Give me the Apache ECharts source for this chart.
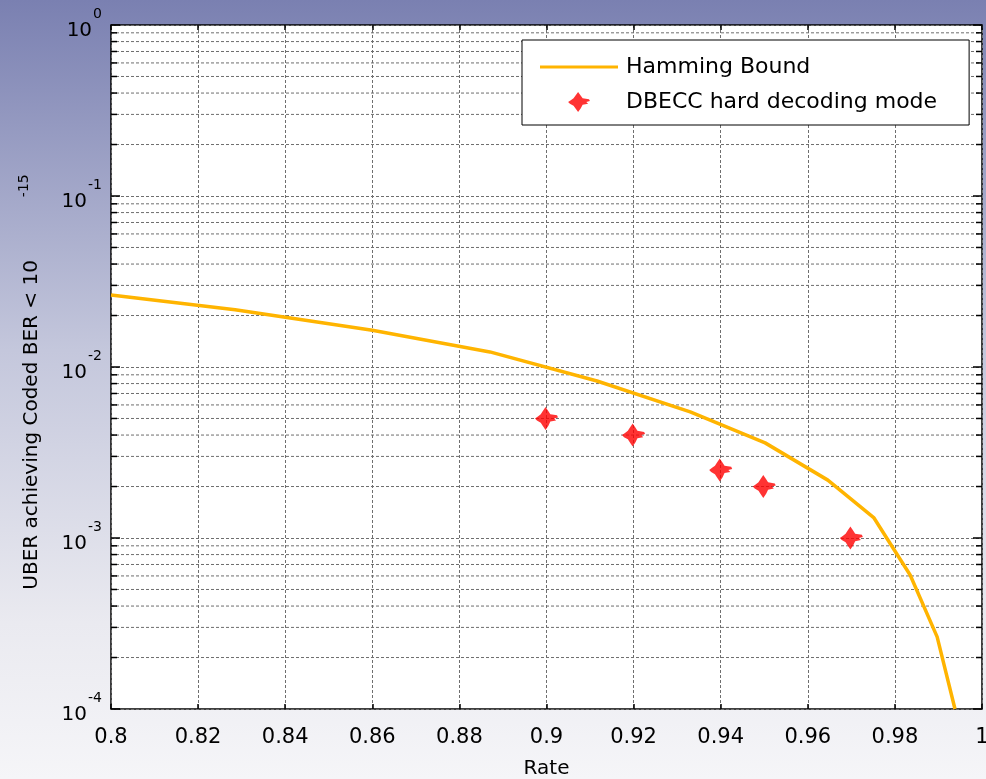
<!DOCTYPE html>
<html>
<head>
<meta charset="utf-8">
<style>
  html, body { margin: 0; padding: 0; }
  #chart { width: 986px; height: 779px; }
</style>
<script src="https://cdn.jsdelivr.net/npm/echarts@6/dist/echarts.min.js"></script>
</head>
<body>
<div id="chart"></div>
<script>
// Hamming bound curve (rate, UBER)
const boundRate = [0.8, 0.8285, 0.86, 0.887, 0.9116, 0.933, 0.9502, 0.9646, 0.9752, 0.9835, 0.9897, 0.9938];
const boundUber = [0.0264, 0.0216, 0.0164, 0.01225, 0.00828, 0.00546, 0.0036, 0.00218, 0.00131, 0.000608, 0.000264, 0.0001];
// DBECC hard decoding points
const dbeccRate = [0.9, 0.92, 0.94, 0.95, 0.97];
const dbeccUber = [0.005, 0.004, 0.0025, 0.002, 0.001];
// minor (2..9) log grid values
const minorVals = [2e-4, 3e-4, 4e-4, 5e-4, 6e-4, 7e-4, 8e-4, 9e-4,
                   2e-3, 3e-3, 4e-3, 5e-3, 6e-3, 7e-3, 8e-3, 9e-3,
                   2e-2, 3e-2, 4e-2, 5e-2, 6e-2, 7e-2, 8e-2, 9e-2,
                   2e-1, 3e-1, 4e-1, 5e-1, 6e-1, 7e-1, 8e-1, 9e-1];

const font = 'DejaVu Sans, Verdana, sans-serif';
const gridColor = '#6e6e6e';
const gridDash = { color: gridColor, width: 1, type: [3, 2] };
// chunky red marker, like the pixelated MATLAB star
const starPath = 'path://M11,0 L14,4 L16,7 L23,8 L24,10 L20,11 L22,13 L16,14 L14,18 L11,22 L8,18 L6,15 L2,13 L0,11 L3,9 L6,7 L8,4 Z';
const lineIcon = 'path://M0,0 L78,0 L78,3 L0,3 Z';

let chart = echarts.init(document.getElementById('chart'));

const yLabel = function (v) {
    const e = Math.round(Math.log10(v));
    return '{b|10}{s|' + e + '}';
};

chart.setOption({
    animation: false,
    backgroundColor: {
        type: 'linear', x: 0, y: 0, x2: 0, y2: 1,
        colorStops: [
            { offset: 0, color: '#7a80b1' },
            { offset: 0.45, color: '#c4c7dc' },
            { offset: 0.8, color: '#eaeaf0' },
            { offset: 1, color: '#f5f5f8' }
        ]
    },
    grid: {
        left: 111, right: 4, top: 25, bottom: 70,
        outerBoundsMode: 'none',
        show: true, backgroundColor: '#fff', borderColor: '#000', borderWidth: 1.5
    },
    legend: {
        left: 522, top: 40,
        orient: 'vertical',
        backgroundColor: '#fff', borderColor: '#000', borderWidth: 1,
        padding: [16, 32, 12, 18],
        itemWidth: 78, itemHeight: 20, itemGap: 13,
        textStyle: { fontFamily: font, fontSize: 22, color: '#000', padding: [0, 0, 0, 3] },
        data: [
            { name: 'Hamming Bound', icon: lineIcon },
            { name: 'DBECC hard decoding mode' }
        ]
    },
    xAxis: [{
        type: 'value', min: 0.8, max: 1, interval: 0.02,
        name: 'Rate', nameLocation: 'middle', nameGap: 50,
        nameTextStyle: { fontFamily: font, fontSize: 20, color: '#000' },
        axisLine: { show: false },
        axisTick: { inside: true, length: 5, lineStyle: { color: '#000', width: 1.5 } },
        axisLabel: { fontFamily: font, fontSize: 21, color: '#000', margin: 18 },
        splitLine: { show: true, lineStyle: gridDash }
    }, {
        type: 'value', min: 0.8, max: 1, interval: 0.02, position: 'top',
        axisLine: { show: false },
        axisTick: { inside: true, length: 5, lineStyle: { color: '#000', width: 1.5 } },
        axisLabel: { show: false },
        splitLine: { show: false }
    }],
    yAxis: [{
        type: 'log', min: 1e-4, max: 1, logBase: 10,
        name: '{a|UBER achieving Coded BER < 10}{s|-15}',
        nameLocation: 'middle', nameRotate: 90, nameGap: 64,
        nameTextStyle: {
            rich: {
                a: { fontFamily: font, fontSize: 20, color: '#000' },
                s: { fontFamily: font, fontSize: 14, color: '#000', padding: [0, 30, 16, 63] }
            }
        },
        axisLine: { show: false },
        axisTick: { inside: true, length: 9, lineStyle: { color: '#000', width: 1.5 } },
        axisLabel: {
            margin: 9, formatter: yLabel,
            rich: {
                b: { fontFamily: font, fontSize: 20, color: '#000', padding: [12, 0, 0, 0] },
                s: { fontFamily: font, fontSize: 14, color: '#000', padding: [0, 0, 22, 1] }
            }
        },
        splitLine: { show: true, lineStyle: gridDash }
    }, {
        type: 'log', min: 1e-4, max: 1, logBase: 10, position: 'right',
        axisLine: { show: false },
        axisTick: { inside: true, length: 9, lineStyle: { color: '#000', width: 1.5 } },
        axisLabel: { show: false },
        splitLine: { show: false }
    }],
    series: [{
        type: 'custom',
        name: 'minor',
        silent: true,
        data: minorVals.map(v => [0.8, v]),
        renderItem: function (params, api) {
            const cs = params.coordSys;
            const y = api.coord([api.value(0), api.value(1)])[1];
            return {
                type: 'group',
                children: [
                    { type: 'line', shape: { x1: cs.x, y1: y, x2: cs.x + cs.width, y2: y }, style: { stroke: gridColor, lineWidth: 1, lineDash: [3, 2] } },
                    { type: 'line', shape: { x1: cs.x, y1: y, x2: cs.x + 6, y2: y }, style: { stroke: '#000', lineWidth: 1.5 } },
                    { type: 'line', shape: { x1: cs.x + cs.width - 6, y1: y, x2: cs.x + cs.width, y2: y }, style: { stroke: '#000', lineWidth: 1.5 } }
                ]
            };
        }
    }, {
        type: 'line',
        name: 'Hamming Bound',
        data: boundRate.map((r, i) => [r, boundUber[i]]),
        symbol: 'none',
        lineStyle: { color: '#ffb400', width: 3.5 },
        itemStyle: { color: '#ffb400' },
        z: 5
    }, {
        type: 'scatter',
        name: 'DBECC hard decoding mode',
        data: dbeccRate.map((r, i) => [r, dbeccUber[i]]),
        symbol: starPath,
        symbolSize: [23, 23],
        itemStyle: { color: '#ff0000' },
        z: 6
    }]
});
</script>
</body>
</html>
